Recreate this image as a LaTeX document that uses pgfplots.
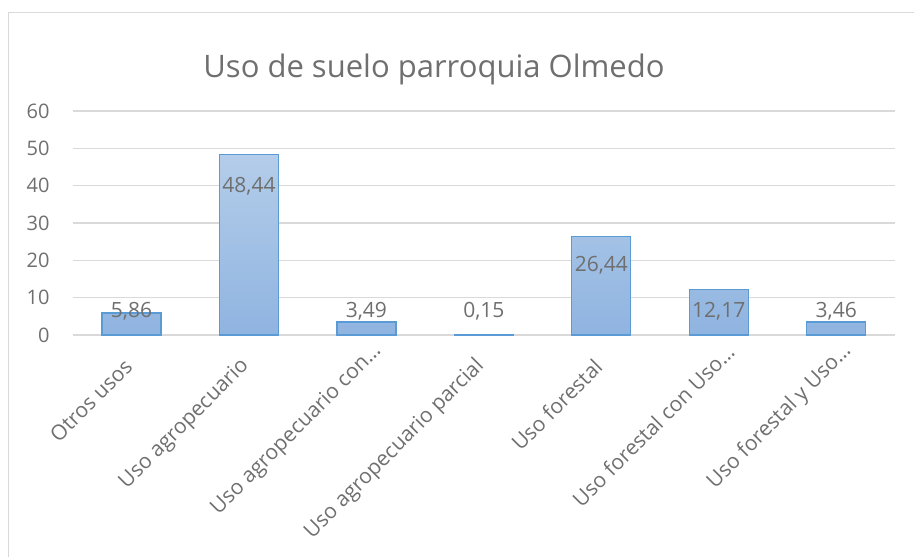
\documentclass[border=0pt]{standalone}
\usepackage{fontspec}
\setmainfont{Open Sans}
\usepackage{pgfplots}
\pgfplotsset{compat=1.18}
\definecolor{txt}{HTML}{6F6F6F}
\definecolor{grd}{HTML}{D9D9D9}
\definecolor{barln}{HTML}{5B9BD5}
\definecolor{bartop}{HTML}{B4CDEA}
\definecolor{barbot}{HTML}{8FB4E0}

\begin{document}
\begin{tikzpicture}[x=1pt,y=1pt]
\useasboundingbox (0,0) rectangle (914,557);
\draw[grd, line width=1.3pt] (8.5,0) -- (8.5,544.3) -- (914,544.3);
\node[txt, font=\fontsize{31}{37}\selectfont] at (434,488) {Uso de suelo parroquia Olmedo};
\begin{axis}[at={(72.75pt,222pt)}, anchor=south west, scale only axis,
  width=822.25pt, height=224pt,
  xmin=-0.5, xmax=6.5, ymin=0, ymax=60,
  ytick={0,10,...,60}, xtick={0,...,6},
  xticklabels={Otros usos, Uso agropecuario, Uso agropecuario con…\hspace*{-21pt},
    Uso agropecuario parcial, Uso forestal, Uso forestal con Uso…\hspace*{-21pt},
    Uso forestal y Uso…\hspace*{-21pt}},
  axis line style={draw=none}, major tick length=0pt,
  ymajorgrids, grid style={grd, line width=1.2pt},
  tick label style={txt, font=\fontsize{20}{24}\selectfont},
  yticklabel style={anchor=east, inner sep=0pt, xshift=-23pt},
  xticklabel style={anchor=east, inner sep=0pt, xshift=-3pt, yshift=-28pt, rotate=45,
    font=\fontsize{21}{25}\selectfont},
  /pgf/number format/assume math mode=true, clip=false]
\addplot[ybar, bar width=59pt, bar shift=0pt, draw=barln, line width=1.3pt,
  top color=bartop, bottom color=barbot]
  coordinates {(0,5.86) (1,48.44) (2,3.49) (3,0.15) (4,26.44) (5,12.17) (6,3.46)};
\addplot[draw=none, mark=none, nodes near coords, point meta=explicit symbolic,
  every node near coord/.style={anchor=base, inner sep=0pt, txt,
    font=\fontsize{21}{25}\selectfont}]
  coordinates {(0,4.7) [5,86] (1,38.3) [48,44] (2,4.7) [3,49] (3,4.7) [0,15]
    (4,16.9) [26,44] (5,4.7) [12,17] (6,4.7) [3,46]};
\end{axis}
\end{tikzpicture}
\end{document}
